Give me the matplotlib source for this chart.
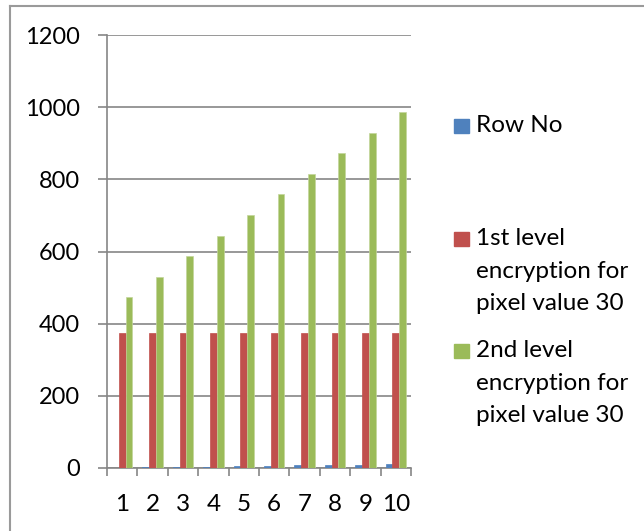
import numpy as np
import matplotlib.pyplot as plt
from matplotlib.patches import Rectangle
from matplotlib.lines import Line2D

plt.rcParams['font.family'] = ['Lato', 'DejaVu Sans']

# data
rows = [1, 2, 3, 4, 5, 6, 7, 8, 9, 10]
row_no = [1, 2, 3, 4, 5, 6, 7, 8, 9, 10]
level1 = [374, 374, 374, 374, 374, 374, 374, 374, 374, 374]
level2 = [473, 530, 587, 644, 701, 758, 815, 872, 929, 986]
labels = ['Row No',
          '1st level\nencryption for\npixel value 30',
          '2nd level\nencryption for\npixel value 30']
colors = ['#4F81BD', '#C0504D', '#9BBB59']

fig = plt.figure(figsize=(6.44, 5.31), dpi=100)
ax = fig.add_axes([107/644, 1-468/531, 304/644, 433/531])

x = np.arange(len(rows))
w = 0.222
series = [row_no, level1, level2]
for i, vals in enumerate(series):
    ax.bar(x + (i-1)*w, vals, width=w, color=colors[i], zorder=3,
           edgecolor=colors[i] if i < 2 else '#c3d69b', linewidth=0.5)

grid = '#868686'
ax.set_ylim(0, 1200)
ax.set_xlim(-0.5, len(rows)-0.5)
ax.set_yticks(range(0, 1201, 200))
ax.yaxis.grid(True, color=grid, linewidth=1.2, zorder=0)
ax.set_xticks(x)
ax.set_xticklabels([str(r) for r in rows])
ax.set_xticks(np.arange(-0.5, len(rows)), minor=True)
ax.tick_params(axis='x', which='major', length=0, pad=19, labelsize=17.5)
ax.tick_params(axis='x', which='minor', length=6, width=1.2, color=grid, direction='out')
ax.tick_params(axis='y', length=6.5, width=1.2, color=grid, pad=13, labelsize=17)
for s in ['top', 'right']:
    ax.spines[s].set_visible(False)
for s in ['left', 'bottom']:
    ax.spines[s].set_color(grid)
    ax.spines[s].set_linewidth(1.2)
ax.set_axisbelow(True)

# legend, Excel style: square next to the first line of each entry
tops = [126, 239, 351]
for lab, col, yc in zip(labels, colors, tops):
    fig.patches.append(Rectangle((454/644, 1-(yc+7)/531), 15/644, 14/531,
                                 transform=fig.transFigure, color=col))
    fig.text(476/644, 1-(yc-11)/531, lab, fontsize=17.5, va='top', ha='left',
             linespacing=1.68)

# outer chart border
fig.lines.append(Line2D([10/644, 10/644], [0, 1-6/531], transform=fig.transFigure,
                        color='#9a9a9a', linewidth=1.5))
fig.lines.append(Line2D([10/644, 1], [1-6/531, 1-6/531], transform=fig.transFigure,
                        color='#9a9a9a', linewidth=1.5))

fig.savefig('out.png', dpi=100)
